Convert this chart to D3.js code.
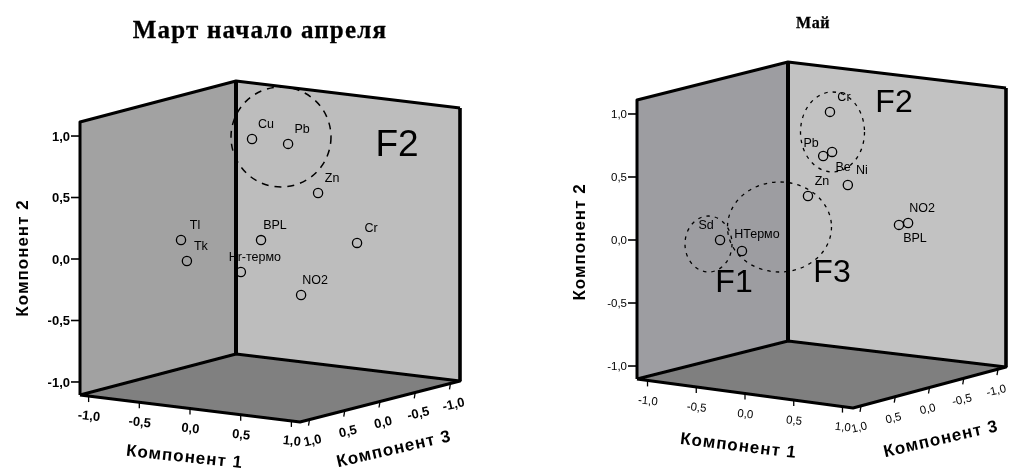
<!DOCTYPE html>
<html>
<head>
<meta charset="utf-8">
<script src="https://d3js.org/d3.v7.min.js"></script>
<style>
body {margin: 0; background: white;}
text {font-family: "Liberation Sans", Arial, sans-serif; fill: black;}
.title {font-family: "Liberation Serif", serif; font-weight: bold; stroke: black; stroke-width: 0.3px;}
.axistitle {font-size: 17px; font-weight: bold; letter-spacing: 1px; text-anchor: middle;}
.ticklabel {text-anchor: middle;}
.ptlabel {font-size: 12.5px; text-anchor: middle;}
.factor {text-anchor: middle;}
.oval {fill: none; stroke: black;}
</style>
</head>
<body>
<svg width="1010" height="474"></svg>
<script>
// component loadings
var marchLabels = ["Cu", "Pb", "Zn", "BPL", "Hr-термо", "Cr", "NO2", "Tl", "Tk"];
var marchC1 = [-0.504, -0.153, 0.343, -0.078, -0.139, 0.655, 0.382, -0.454, -0.464];
var marchC2 = [0.79, 0.786, 0.481, 0.085, -0.151, 0.092, -0.30, 0.136, -0.051];
var marchC3 = [-0.5, -0.5, -0.2, 0, 0.2, -0.3, 0.1, 0.6, 0.5];

var mayLabels = ["Cr", "Pb", "Be", "Ni", "Zn", "NO2", "BPL", "Sd", "HТермо"];
var mayC1 = [-0.186, -0.186, -0.095, 0.135, -0.133, 0.541, 0.448, -0.685, -0.530];
var mayC2 = [0.897, 0.561, 0.602, 0.376, 0.290, 0.071, 0.047, -0.045, -0.130];
var mayC3 = [-0.4, -0.3, -0.3, -0.2, 0, -0.5, -0.5, 0.5, 0.4];

var axisTicks = [-1, -0.5, 0, 0.5, 1];

var svg = d3.select("svg");
var blur = svg.append("defs").append("filter").attr("id", "soft")
	.attr("filterUnits", "userSpaceOnUse").attr("x", 0).attr("y", 0).attr("width", 1010).attr("height", 474);
blur.append("feGaussianBlur").attr("stdDeviation", 0.45);
var root = svg.append("g").attr("filter", "url(#soft)");

var fmt = d3.formatLocale({decimal: ",", thousands: " ", grouping: [3], currency: ["", ""], minus: "-"}).format(".1f");

function drawPanel(p) {
	var g = root.append("g");
	var u = d3.scaleLinear().domain([-p.pad1, p.pad1]).range([0, 1]);
	var v = d3.scaleLinear().domain([p.pad3, -p.pad3]).range([0, 1]);
	var h = d3.scaleLinear().domain([-p.pad2, p.pad2]).range([0, p.height]);

	// floor is a slightly uneven quadrilateral, so blend the four corners
	function project(c1, c2, c3) {
		var a = u(c1), b = v(c3);
		var near = d3.interpolate(p.left, p.front)(a);
		var far = d3.interpolate(p.back, p.right)(a);
		var q = d3.interpolate(near, far)(b);
		return [q[0], q[1] - h(c2)];
	}
	var e1 = p.pad1, e2 = p.pad2, e3 = p.pad3;
	function poly(pts, fill) {
		g.append("polygon").attr("points", pts.join(" ")).attr("fill", fill);
	}
	var LB = project(-e1, -e2, e3), FB = project(e1, -e2, e3), RB = project(e1, -e2, -e3), BB = project(-e1, -e2, -e3);
	var LT = project(-e1, e2, e3), BT = project(-e1, e2, -e3), RT = project(e1, e2, -e3);

	poly([LB, LT, BT, BB], p.wallLeft);
	poly([BB, BT, RT, RB], p.wallRight);
	poly([LB, BB, RB, FB], p.floor);

	var edge = d3.line();
	function stroke(pts, w) {
		g.append("path").attr("d", edge(pts)).attr("fill", "none").attr("stroke", "black")
			.attr("stroke-width", w).attr("stroke-linejoin", "round");
	}
	stroke([LB, LT, BT, RT], 3);
	stroke([RT, RB], 3.6);
	stroke([BT, BB], 4);
	stroke([LB, BB, RB, FB, LB], 3);

	// vertical axis on the left edge
	var yAxis = d3.scaleLinear().domain([-p.pad2, p.pad2]).range([LB[1], LT[1]]);
	var ax = g.append("g").attr("transform", "translate(" + LB[0] + ",0)")
		.call(d3.axisLeft(yAxis).tickValues(axisTicks).tickFormat(fmt).tickSize(9).tickPadding(1));
	ax.select(".domain").remove();
	ax.selectAll("line").attr("stroke-width", 1.6);
	ax.selectAll("text").attr("font-size", p.tickSize).attr("font-family", "Liberation Sans")
		.attr("font-weight", p.tickWeight).attr("dy", "0.35em");

	// floor axes
	axisTicks.forEach(function(t) {
		var a = project(t, -e2, e3);
		stroke([a, [a[0], a[1] + 6]], 1.3);
		g.append("text").attr("class", "ticklabel").attr("font-size", p.tickSize).attr("font-weight", p.tickWeight)
			.attr("transform", "translate(" + a[0] + "," + (a[1] + 24) + ") rotate(6)").text(fmt(t));
		var b = project(e1, -e2, t);
		stroke([b, [b[0] - 1, b[1] + 6]], 1.3);
		g.append("text").attr("class", "ticklabel").attr("font-size", p.tickSize).attr("font-weight", p.tickWeight)
			.attr("transform", "translate(" + (b[0] + p.c3LabelDx) + "," + (b[1] + 25) + ") rotate(-13)").text(fmt(t));
	});

	// points and their labels
	p.labels.forEach(function(name, i) {
		var q = project(p.c1[i], p.c2[i], p.c3[i]);
		g.append("circle").attr("cx", q[0]).attr("cy", q[1]).attr("r", 4.6)
			.attr("fill", "none").attr("stroke", "black").attr("stroke-width", 1.3);
		var off = p.labelOffset[name] || [14, -11];
		g.append("text").attr("class", "ptlabel").attr("x", q[0] + off[0]).attr("y", q[1] + off[1]).text(name);
	});

	// hand drawn factor groups
	p.ovals.forEach(function(o) {
		g.append("ellipse").attr("class", "oval").attr("cx", o[0]).attr("cy", o[1]).attr("rx", o[2]).attr("ry", o[3])
			.attr("stroke-width", p.ovalWidth).attr("stroke-dasharray", p.ovalDash);
	});
	p.factors.forEach(function(f) {
		g.append("text").attr("class", "factor").attr("font-size", p.factorSize).attr("x", f[1]).attr("y", f[2]).text(f[0]);
	});

	// titles
	g.append("text").attr("class", "title").attr("x", p.titlePos[0]).attr("y", p.titlePos[1])
		.attr("text-anchor", "middle").attr("font-size", p.titleSize).attr("letter-spacing", p.titleSpacing).text(p.title);
	p.axisTitles.forEach(function(a) {
		g.append("text").attr("class", "axistitle")
			.attr("transform", "translate(" + a[1] + "," + a[2] + ") rotate(" + a[3] + ")").text(a[0]);
	});
}

drawPanel({
	title: "Март начало апреля", titlePos: [260, 38], titleSize: 25, titleSpacing: 1.2,
	left: [80, 395], front: [300, 422], right: [460, 381], back: [236, 354], height: 273,
	pad1: 1.085, pad2: 1.11, pad3: 1.135, tickSize: 13, tickWeight: "bold", c3LabelDx: 4,
	wallLeft: "#a2a2a2", wallRight: "#bdbdbd", floor: "#808080",
	labels: marchLabels, c1: marchC1, c2: marchC2, c3: marchC3,
	labelOffset: {},
	ovals: [[281, 137, 50, 50]], ovalWidth: 1.5, ovalDash: "7 6",
	factors: [["F2", 397, 156]], factorSize: 37,
	axisTitles: [["Компонент 2", 28, 258, -90], ["Компонент 1", 184, 462, 6], ["Компонент 3", 395, 454, -13]]
});

drawPanel({
	title: "Май", titlePos: [813, 28], titleSize: 16, titleSpacing: 0.6,
	left: [637, 379], front: [853, 408], right: [1006, 367], back: [788, 341], height: 279,
	pad1: 1.108, pad2: 1.107, pad3: 1.117, tickSize: 11.5, tickWeight: "normal", c3LabelDx: -1,
	wallLeft: "#9d9da1", wallRight: "#c2c2c2", floor: "#7f7f7f",
	labels: mayLabels, c1: mayC1, c2: mayC2, c3: mayC3,
	labelOffset: {"Pb": [-12, -9], "Be": [11, 19], "BPL": [16, 17], "Sd": [-14, -11], "HТермо": [15, -13]},
	ovals: [[832.5, 132, 32, 40], [779.5, 227, 52, 45], [708.5, 244, 23.5, 28]], ovalWidth: 1.3, ovalDash: "3.5 5",
	factors: [["F2", 894, 112], ["F3", 832, 282], ["F1", 734, 292]], factorSize: 32,
	axisTitles: [["Компонент 2", 585, 242, -90], ["Компонент 1", 738, 451, 7], ["Компонент 3", 942, 444, -13]]
});
</script>
</body>
</html>
